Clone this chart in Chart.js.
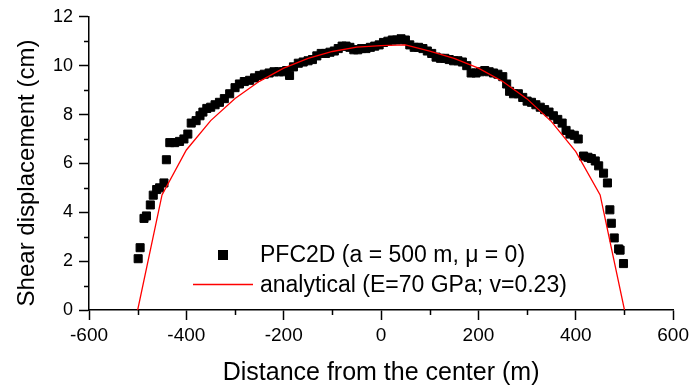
<!DOCTYPE html>
<html>
<head>
<meta charset="utf-8">
<script src="https://cdn.jsdelivr.net/npm/chart.js@4.4.1/dist/chart.umd.min.js"></script>
<style>
  html, body { margin: 0; padding: 0; background: #fff; }
  #wrap { width: 693px; height: 388px; }
</style>
</head>
<body>
<div id="wrap"><canvas id="shearChart" width="693" height="388"></canvas></div>
<script>
// PFC2D simulation points (distance m, shear displacement cm)
const pfcX = [-499, -495, -487, -482, -474, -468, -461, -455, -446, -441, -434, -424, -414, -405, -397, -390,
              -380, -372, -366, -358, -350, -341, -332, -322, -311, -300, -291, -281, -270, -260, -250, -240,
              -230, -220, -210, -200, -194, -188, -180, -170, -160, -150, -141, -132, -123, -114, -105, -96,
              -88, -80, -72, -64, -56, -48, -40, -31, -22, -13, -4, 5, 14, 23, 32, 41, 50, 59, 68, 77, 86,
              95, 104, 113, 122, 131, 140, 149, 158, 167, 176, 185, 195, 204, 213, 222, 231, 240, 250, 258,
              264, 272, 282, 291, 300, 309, 318, 327, 336, 345, 354, 363, 372, 380, 388, 397, 405, 416, 425,
              432, 440, 447, 457, 465, 470, 473, 479, 488, 491, 498];
const pfcY = [2.1, 2.55, 3.75, 3.85, 4.3, 4.7, 4.93, 5.0, 5.2, 6.15, 6.85, 6.85, 6.9, 7.0, 7.2, 7.65,
              7.75, 7.95, 8.1, 8.25, 8.3, 8.4, 8.5, 8.65, 8.85, 9.1, 9.25, 9.35, 9.4, 9.5, 9.6, 9.65,
              9.7, 9.75, 9.75, 9.75, 9.8, 9.6, 9.95, 10.1, 10.15, 10.2, 10.25, 10.4, 10.5, 10.5, 10.55, 10.6,
              10.7, 10.8, 10.8, 10.75, 10.65, 10.65, 10.7, 10.7, 10.75, 10.8, 10.85, 10.95, 11.0, 11.05, 11.05, 11.1, 11.05, 10.85, 10.75, 10.75, 10.7,
              10.6, 10.5, 10.35, 10.3, 10.3, 10.25, 10.2, 10.2, 10.15, 10.0, 9.7, 9.7, 9.75, 9.8, 9.75, 9.7, 9.65, 9.55, 9.25,
              8.95, 8.85, 8.85, 8.7, 8.55, 8.5, 8.4, 8.3, 8.2, 8.1, 7.95, 7.8, 7.65, 7.35, 7.2, 7.15, 7.0, 6.3, 6.25,
              6.2, 6.1, 5.9, 5.6, 5.2, 4.1, 3.55, 2.95, 2.5, 2.45, 1.9];

// analytical solution (E=70 GPa; v=0.23)
const anaX = [-500, -450, -400, -350, -300, -250, -200, -150, -100, -50, 0,
              50, 100, 150, 200, 250, 300, 350, 400, 450, 500];
const anaY = [0, 4.71, 6.55, 7.75, 8.66, 9.36, 9.90, 10.30, 10.58, 10.76, 10.82,
              10.85, 10.6, 10.30, 9.90, 9.35, 8.64, 7.71, 6.48, 4.71, 0];

const xTicksMinor = [-500, -300, -100, 100, 300, 500];
const yTicksMinor = [1, 3, 5, 7, 9, 11];

const pfcLabel = 'PFC2D (a = 500 m, \u03bc = 0)';
const anaLabel = 'analytical (E=70 GPa; v=0.23)';

const FONT = '"Liberation Sans", Arial, sans-serif';

const toPoints = (xs, ys) => xs.map((x, i) => ({ x: x, y: ys[i] }));

// minor ticks, y title and the legend box are drawn by hand
const extrasPlugin = {
    id: 'extras',
    afterDraw(chart) {
        const ctx = chart.ctx;
        const xs = chart.scales.x;
        const ys = chart.scales.y;
        const area = chart.chartArea;

        ctx.save();
        ctx.strokeStyle = '#000';
        ctx.lineWidth = 1.5;
        ctx.beginPath();
        xTicksMinor.forEach(v => {
            const px = Math.round(xs.getPixelForValue(v)) + 0.5;
            ctx.moveTo(px, area.bottom);
            ctx.lineTo(px, area.bottom + 5);
        });
        yTicksMinor.forEach(v => {
            const py = Math.round(ys.getPixelForValue(v)) + 0.5;
            ctx.moveTo(area.left, py);
            ctx.lineTo(area.left - 5, py);
        });
        ctx.stroke();

        // y axis title
        ctx.fillStyle = '#000';
        ctx.font = '24px ' + FONT;
        ctx.textAlign = 'center';
        ctx.textBaseline = 'middle';
        ctx.translate(27, 173);
        ctx.rotate(-Math.PI / 2);
        ctx.fillText('Shear displacement (cm)', 0, 0);
        ctx.restore();

        // legend
        ctx.save();
        ctx.font = '23px ' + FONT;
        ctx.fillStyle = '#000';
        ctx.textBaseline = 'middle';
        ctx.textAlign = 'left';
        ctx.fillRect(218, 250, 10, 10);
        ctx.fillText(pfcLabel, 260, 256);
        ctx.strokeStyle = '#ff0000';
        ctx.lineWidth = 1.3;
        ctx.beginPath();
        ctx.moveTo(193, 284.5);
        ctx.lineTo(253, 284.5);
        ctx.stroke();
        ctx.fillText(anaLabel, 260, 286);
        ctx.restore();
    }
};

new Chart(document.getElementById('shearChart'), {
    type: 'scatter',
    data: {
        datasets: [
            {
                label: pfcLabel,
                data: toPoints(pfcX, pfcY),
                pointStyle: 'rect',
                pointRadius: 5.7,
                pointBackgroundColor: '#000',
                pointBorderColor: '#000',
                pointBorderWidth: 1,
                showLine: false,
                order: 2
            },
            {
                label: anaLabel,
                data: toPoints(anaX, anaY),
                showLine: true,
                borderColor: '#ff0000',
                borderWidth: 1.3,
                pointRadius: 0,
                tension: 0,
                order: 1
            }
        ]
    },
    options: {
        responsive: false,
        animation: false,
        layout: { padding: { top: 16, right: 18, left: 0, bottom: 0 } },
        plugins: {
            legend: { display: false },
            tooltip: { enabled: false }
        },
        scales: {
            x: {
                type: 'linear',
                min: -600,
                max: 600,
                afterFit: s => { s.height = 78; },
                ticks: {
                    stepSize: 200,
                    color: '#000',
                    padding: 4,
                    maxRotation: 0,
                    font: { family: FONT, size: 19 }
                },
                grid: {
                    drawOnChartArea: false,
                    tickLength: 10,
                    tickColor: '#000',
                    tickWidth: 1.5
                },
                border: { color: '#000', width: 1.5 },
                title: {
                    display: true,
                    text: 'Distance from the center (m)',
                    color: '#000',
                    font: { family: FONT, size: 25 },
                    padding: { top: 0, bottom: 0 }
                }
            },
            y: {
                min: 0,
                max: 12,
                afterFit: s => { s.width = 89; },
                ticks: {
                    stepSize: 2,
                    color: '#000',
                    padding: 6,
                    font: { family: FONT, size: 18 }
                },
                grid: {
                    drawOnChartArea: false,
                    tickLength: 10,
                    tickColor: '#000',
                    tickWidth: 1.5
                },
                border: { color: '#000', width: 1.5 }
            }
        }
    },
    plugins: [extrasPlugin]
});
</script>
</body>
</html>
